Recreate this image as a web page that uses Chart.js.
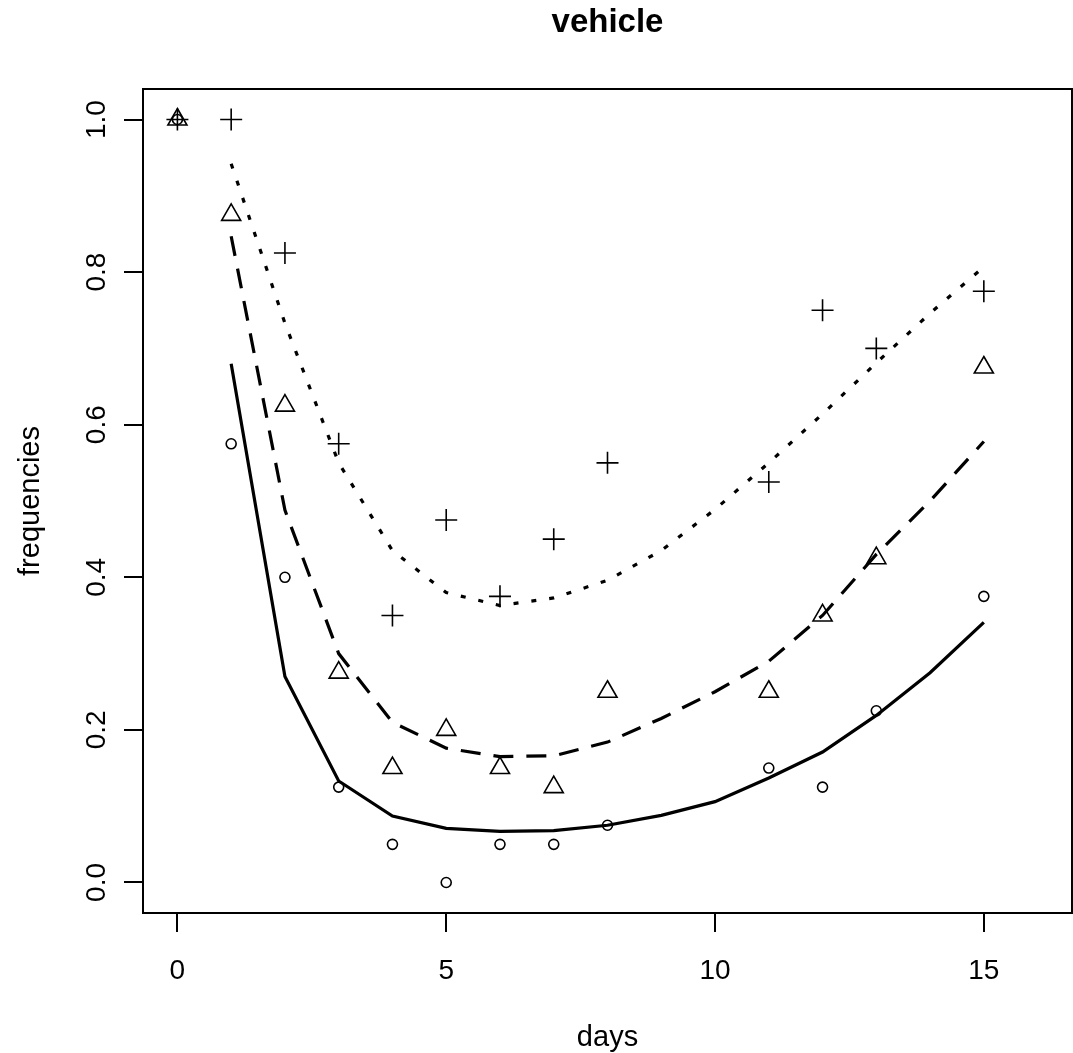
<!DOCTYPE html>
<html>
<head>
<meta charset="utf-8">
<title>vehicle</title>
<script src="https://cdn.jsdelivr.net/npm/chart.js@4.4.1/dist/chart.umd.min.js"></script>
<style>
  html, body { margin: 0; padding: 0; background: #fff; overflow: hidden; }
  canvas { display: block; position: absolute; left: 0; top: 0; }
</style>
</head>
<body>
<canvas id="grafico" width="1073" height="1053"></canvas>
<script>
// observed frequencies per day
const days = [0, 1, 2, 3, 4, 5, 6, 7, 8, 11, 12, 13, 15];
const circles = [1.0, 0.575, 0.4, 0.125, 0.05, 0.0, 0.05, 0.05, 0.075, 0.15, 0.125, 0.225, 0.375];
const triangles = [1.0, 0.875, 0.625, 0.275, 0.15, 0.2, 0.15, 0.125, 0.25, 0.25, 0.35, 0.425, 0.675];
const pluses = [1.0, 1.0, 0.825, 0.575, 0.35, 0.475, 0.375, 0.45, 0.55, 0.525, 0.75, 0.70, 0.775];

// fitted curves
const fitDays = [1, 2, 3, 4, 5, 6, 7, 8, 9, 10, 11, 12, 13, 14, 15];
const fitSolid = [0.68, 0.27, 0.133, 0.087, 0.071, 0.067, 0.068, 0.075, 0.088, 0.106, 0.137, 0.171, 0.219, 0.275, 0.341];
const fitDashed = [0.847, 0.488, 0.3, 0.21, 0.176, 0.165, 0.166, 0.184, 0.215, 0.25, 0.29, 0.35, 0.43, 0.5, 0.578];
const fitDotted = [0.942, 0.733, 0.55, 0.435, 0.38, 0.363, 0.373, 0.396, 0.435, 0.489, 0.55, 0.614, 0.681, 0.746, 0.807];

const xTicks = [0, 5, 10, 15];
const yTicks = [0, 0.2, 0.4, 0.6, 0.8, 1.0];
const yTickLabels = ["0.0", "0.2", "0.4", "0.6", "0.8", "1.0"];

const FONT = "'Liberation Sans', Arial, sans-serif";

const pts = (xs, ys) => xs.map((x, i) => ({ x: x, y: ys[i] }));

function pontos(data, style, radius) {
    return {
        type: "scatter",
        data: data,
        pointStyle: style,
        pointRadius: radius,
        pointHoverRadius: radius,
        pointBorderWidth: 1.6,
        borderColor: "#000",
        backgroundColor: "rgba(0,0,0,0)",
    };
}

function curva(data, dash) {
    return {
        type: "line",
        data: data,
        borderColor: "#000",
        borderWidth: 3.2,
        borderDash: dash,
        pointRadius: 0,
        tension: 0,
        fill: false,
    };
}

// frame, title, axis titles and rotated y labels
const textos = {
    id: "textos",
    afterDraw(chart) {
        const ctx = chart.ctx;
        const a = chart.chartArea;
        const y = chart.scales.y;
        ctx.save();
        ctx.strokeStyle = "#000";
        ctx.lineWidth = 2;
        ctx.strokeRect(a.left, a.top, a.right - a.left, a.bottom - a.top);

        ctx.fillStyle = "#000";
        ctx.textAlign = "center";
        ctx.textBaseline = "middle";
        ctx.font = "bold 33px " + FONT;
        ctx.fillText("vehicle", (a.left + a.right) / 2, 23);

        ctx.font = "29px " + FONT;
        ctx.fillText("days", (a.left + a.right) / 2, 1038);

        ctx.save();
        ctx.translate(31, (a.top + a.bottom) / 2);
        ctx.rotate(-Math.PI / 2);
        ctx.fillText("frequencies", 0, 0);
        ctx.restore();

        ctx.font = "28px " + FONT;
        yTicks.forEach((v, i) => {
            ctx.save();
            ctx.translate(97, y.getPixelForValue(v));
            ctx.rotate(-Math.PI / 2);
            ctx.fillText(yTickLabels[i], 0, 0);
            ctx.restore();
        });
        ctx.restore();
    }
};

new Chart(document.getElementById("grafico"), {
    data: {
        datasets: [
            curva(pts(fitDays, fitSolid), []),
            curva(pts(fitDays, fitDashed), [20, 13]),
            curva(pts(fitDays, fitDotted), [5, 13]),
            pontos(pts(days, circles), "circle", 5),
            pontos(pts(days, triangles), "triangle", 11),
            pontos(pts(days, pluses), "cross", 11),
        ],
    },
    options: {
        responsive: false,
        maintainAspectRatio: false,
        devicePixelRatio: 1,
        animation: false,
        layout: { autoPadding: false, padding: { top: 89, right: 1, left: 0, bottom: 0 } },
        plugins: {
            legend: { display: false },
            tooltip: { enabled: false },
        },
        scales: {
            x: {
                type: "linear",
                min: -0.64,
                max: 16.64,
                afterBuildTicks: s => { s.ticks = xTicks.map(v => ({ value: v })); },
                afterFit: s => { s.height = 140; s.paddingLeft = 0; s.paddingRight = 0; },
                border: { display: false },
                grid: { drawOnChartArea: false, drawTicks: true, tickLength: 19, color: "#000", lineWidth: 2 },
                ticks: {
                    color: "#000",
                    font: { family: FONT, size: 28 },
                    padding: 22,
                    maxRotation: 0,
                    callback: v => String(v),
                },
            },
            y: {
                type: "linear",
                min: -0.04,
                max: 1.04,
                afterBuildTicks: s => { s.ticks = yTicks.map(v => ({ value: v })); },
                afterFit: s => { s.width = 143; s.paddingTop = 0; s.paddingBottom = 0; },
                border: { display: false },
                grid: { drawOnChartArea: false, drawTicks: true, tickLength: 19, color: "#000", lineWidth: 2 },
                ticks: { display: false },
            },
        },
    },
    plugins: [textos],
});
</script>
</body>
</html>
